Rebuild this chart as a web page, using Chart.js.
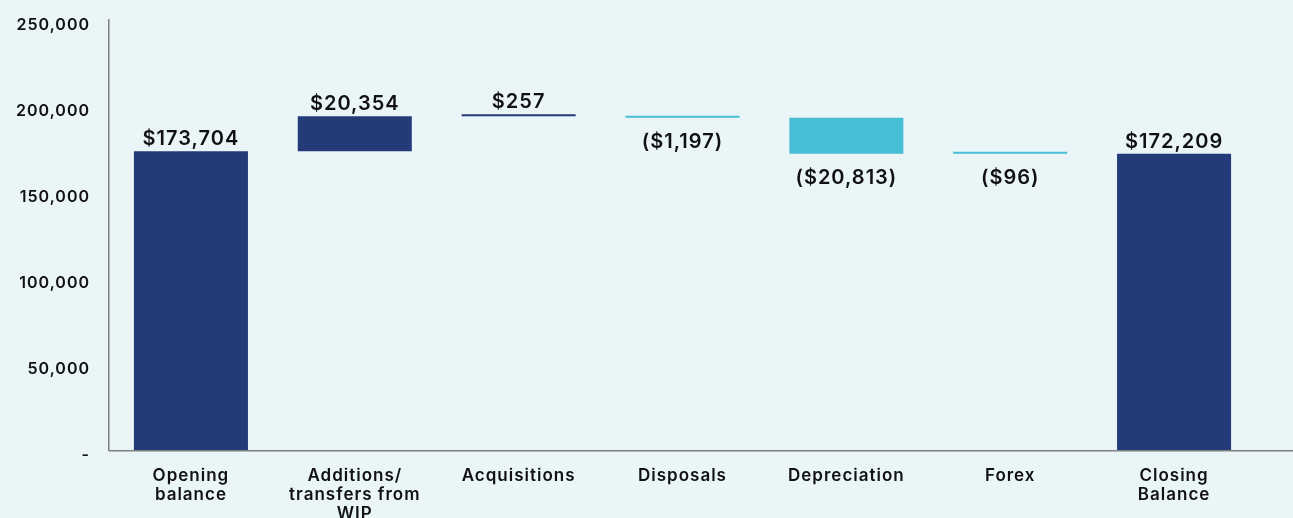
<!DOCTYPE html>
<html>
<head>
<meta charset="utf-8">
<script src="https://cdn.jsdelivr.net/npm/chart.js@4.4.1/dist/chart.umd.min.js"></script>
<style>
  html, body { margin: 0; padding: 0; background: #EAF5F7; }
  #wrap { width: 1293px; height: 518px; position: relative; }
</style>
</head>
<body>
<div id="wrap"><canvas id="c" width="1293" height="518"></canvas></div>
<script>
// ---- data ----
const categories = [
  ['Opening', 'balance'],
  ['Additions/', 'transfers from', 'WIP'],
  'Acquisitions',
  'Disposals',
  'Depreciation',
  'Forex',
  ['Closing', 'Balance']
];
const amounts = [173704, 20354, 257, -1197, -20813, -96, 172209];
const kinds = ['total', 'delta', 'delta', 'delta', 'delta', 'delta', 'total'];
const yTicks = [0, 50000, 100000, 150000, 200000, 250000];

// ---- derived floating ranges ----
const NAVY = '#243B7A';
const CYAN = '#47BED6';
let running = 0;
const ranges = amounts.map((v, i) => {
  if (kinds[i] === 'total') { running = v; return [0, v]; }
  const start = running; running += v; return [start, running];
});
const colors = amounts.map((v, i) => (kinds[i] === 'total' || v >= 0) ? NAVY : CYAN);

function fmt(v) {
  const s = '$' + Math.abs(v).toLocaleString('en-US');
  return v < 0 ? '(' + s + ')' : s;
}

const FONT = 'Inter, "Open Sans", sans-serif';
const SPACING = '1px';
const WEIGHT = '600';

const labelPlugin = {
  id: 'wfLabels',
  beforeLayout(chart) { chart.ctx.letterSpacing = SPACING; },
  beforeDraw(chart) { chart.ctx.letterSpacing = SPACING; },
  afterDatasetsDraw(chart) {
    const ctx = chart.ctx;
    const meta = chart.getDatasetMeta(0);
    ctx.save();
    ctx.letterSpacing = SPACING;
    ctx.font = WEIGHT + ' 20px ' + FONT;
    ctx.fillStyle = '#111111';
    ctx.textAlign = 'center';
    meta.data.forEach((el, i) => {
      const top = Math.min(el.y, el.base);
      const bottom = Math.max(el.y, el.base);
      const v = amounts[i];
      if (v >= 0) {
        ctx.textBaseline = 'bottom';
        ctx.fillText(fmt(v), el.x, top - 2);
      } else {
        ctx.textBaseline = 'top';
        ctx.fillText(fmt(v), el.x, bottom + 14);
      }
    });
    ctx.restore();
  },
  afterDraw(chart) {
    const ctx = chart.ctx;
    const a = chart.chartArea;
    ctx.save();
    ctx.strokeStyle = '#808080';
    ctx.lineWidth = 1.5;
    ctx.beginPath();
    ctx.moveTo(a.left, a.bottom + 0.75);
    ctx.lineTo(chart.width, a.bottom + 0.75);
    ctx.stroke();
    ctx.restore();
  }
};

new Chart(document.getElementById('c'), {
  type: 'bar',
  data: {
    labels: categories,
    datasets: [{
      data: ranges,
      backgroundColor: colors,
      borderWidth: 0,
      minBarLength: 2,
      categoryPercentage: 1.0,
      barPercentage: 0.696
    }]
  },
  options: {
    responsive: false,
    devicePixelRatio: 1,
    animation: false,
    layout: { padding: { top: 20, right: 37, left: 0, bottom: 0 } },
    plugins: { legend: { display: false }, tooltip: { enabled: false } },
    scales: {
      x: {
        grid: { display: false, drawTicks: false },
        border: { display: false },
        ticks: { color: '#111111', font: { family: FONT, size: 17, weight: WEIGHT, lineHeight: 1.12 }, padding: 16, maxRotation: 0, autoSkip: false },
        afterFit(s) { s.height = 68; s.paddingLeft = 0; s.paddingRight = 0; }
      },
      y: {
        min: 0, max: 250000,
        afterBuildTicks(s) { s.ticks = yTicks.map(v => ({ value: v })); },
        grid: { display: false, drawTicks: false },
        border: { display: true, color: '#808080', width: 1.5 },
        ticks: {
          color: '#111111',
          font: { family: FONT, size: 16, weight: WEIGHT },
          padding: 19,
          labelOffset: 5,
          callback: v => v === 0 ? '-' : v.toLocaleString('en-US')
        },
        afterFit(s) { s.width = 109; s.paddingTop = 0; s.paddingBottom = 0; }
      }
    }
  },
  plugins: [labelPlugin]
});
</script>
</body>
</html>
